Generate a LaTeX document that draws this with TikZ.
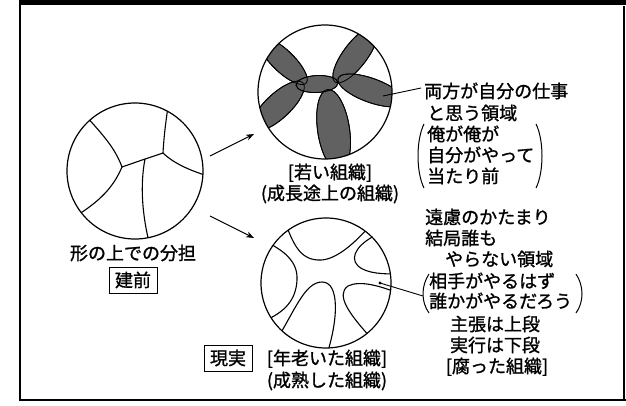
\documentclass[tikz,border=0pt]{standalone}
\usepackage{fontspec}
\newfontfamily\jp[FakeBold=1.2]{Noto Sans CJK JP}
\usetikzlibrary{arrows.meta}
\begin{document}
\begin{tikzpicture}[x=1pt,y=-1pt,
  txt/.style={font=\jp\fontsize{18}{18}\selectfont, inner sep=0pt, text height=15.8pt, text depth=2.2pt},
  boxed/.style={txt, draw, line width=1pt, inner xsep=6pt, inner ysep=4pt},
  curve/.style={line width=1.1pt},
  ring/.style={line width=1.2pt},
  paren/.style={line width=1pt},
  petal/.style={fill=black!62, draw=black, line width=0.8pt},
  arr/.style={line width=1pt, -{Stealth[length=8pt,width=6pt]}},
  lead/.style={line width=0.9pt}]
\useasboundingbox (0,0) rectangle (626,405);
% frame
\fill (21,0) rectangle (626,5);
\draw[line width=1.2pt] (20,0) -- (20,400) -- (626,400);
\draw[line width=1.2pt] (624,6) -- (624,400);

% ---------- left circle ----------
\coordinate (lc) at (135,171);
\begin{scope}
\clip (lc) circle[radius=68];
\draw[curve] (86,116) .. controls (103,135) and (115,148) .. (122,167);
\draw[curve] (122,167) -- (145,159) -- (163,153);
\draw[curve] (163,153) .. controls (164,135) and (166,120) .. (169,100);
\draw[curve] (163,153) .. controls (172,162) and (188,170) .. (208,176);
\draw[curve] (122,167) .. controls (115,183) and (105,198) .. (76,216);
\draw[curve] (145,159) .. controls (140,185) and (142,215) .. (150,246);
\end{scope}
\draw[ring] (lc) circle[radius=68];
\node[txt] (katachi) at (133,253) {形の上での分担};
\node[boxed] (tatemae) at (133,280) {建前};

% ---------- top circle ----------
\coordinate (tc) at (325,92);
\def\petals{283/61/32/11/-44, 278/106/34/12.5/43, 355.4/54.8/34/12/53, 371/90.4/35/12/-20, 333.6/130/41/16/-81.5, 317/84/21/8.5/3}
\begin{scope}
\clip (tc) circle[radius=67];
\foreach \cx/\cy/\a/\b/\t in \petals
  \filldraw[petal, rotate around={\t:(\cx,\cy)}] (\cx,\cy) ellipse[x radius=\a, y radius=\b];
\foreach \cx/\cy/\a/\b/\t in \petals
  \draw[line width=0.8pt, rotate around={\t:(\cx,\cy)}] (\cx,\cy) ellipse[x radius=\a, y radius=\b];
\end{scope}
\draw[ring] (tc) circle[radius=67];
\node[txt] (wakai) at (330,172) {[若い組織]};
\node[txt] (seicho) at (330,193) {(成長途上の組織)};

% ---------- bottom circle ----------
\coordinate (bc) at (326,283);
\begin{scope}
\clip (bc) circle[radius=65];
\draw[curve] (283,216) .. controls (293,245) and (300,259) .. (318,260) .. controls (333,261) and (350,248) .. (370,226);
\draw[curve] (380,233) .. controls (360,242) and (348,256) .. (358,266) .. controls (367,274) and (385,274) .. (398,274);
\draw[curve] (260,239) .. controls (285,250) and (298,262) .. (297,280) .. controls (296,300) and (285,312) .. (264,321);
\draw[curve] (276,341) .. controls (295,310) and (305,282) .. (322,282) .. controls (340,282) and (338,320) .. (327,354);
\draw[curve] (372,339) .. controls (350,315) and (335,295) .. (348,286) .. controls (360,280) and (380,286) .. (398,293);
\end{scope}
\draw[ring] (bc) circle[radius=65];
\node[boxed] (genjitsu) at (228,358) {現実};
\node[txt] (toshi) at (327,358) {[年老いた組織]};
\node[txt] (seijuku) at (327,380) {(成熟した組織)};

% ---------- arrows ----------
\coordinate (a1s) at (210,156);
\coordinate (a1e) at (254,134);
\coordinate (a2s) at (210,216);
\coordinate (a2e) at (254,238);
\draw[arr] (a1s) -- (a1e);
\draw[arr] (a2s) -- (a2e);

% ---------- upper right text ----------
\node[txt, anchor=west] (r1) at (424,91) {両方が自分の仕事};
\node[txt, anchor=west] (r2) at (427,113) {と思う領域};
\node[txt, anchor=west] (r3) at (427,134) {俺が俺が};
\node[txt, anchor=west] (r4) at (427,155) {自分がやって};
\node[txt, anchor=west] (r5) at (427,176) {当たり前};
\draw[paren] (424,124) .. controls (416,140) and (416,172) .. (424,188);
\draw[paren] (536,124) .. controls (544,140) and (544,172) .. (536,188);
\coordinate (p1) at (383,96);
\coordinate (p1e) at (421,88);
\draw[lead] (p1) -- (p1e);

% ---------- lower right text ----------
\node[txt, anchor=west] (s1) at (425,217) {遠慮のかたまり};
\node[txt, anchor=west] (s2) at (425,238) {結局誰も};
\node[txt, anchor=west] (s3) at (445,259) {やらない領域};
\node[txt, anchor=west] (s4) at (429,281) {相手がやるはず};
\node[txt, anchor=west] (s5) at (429,301) {誰かがやるだろう};
\draw[paren] (429,274) .. controls (421,286) and (421,302) .. (429,313);
\draw[paren] (576,274) .. controls (584,286) and (584,302) .. (576,313);
\node[txt] (s6) at (495,324) {主張は上段};
\node[txt] (s7) at (495,345) {実行は下段};
\node[txt] (s8) at (497,366) {[腐った組織]};
\coordinate (p2) at (380,283);
\coordinate (p2e) at (423,296);
\fill (p2) circle[radius=1.6];
\draw[lead] (p2) -- (p2e);
\end{tikzpicture}
\end{document}
